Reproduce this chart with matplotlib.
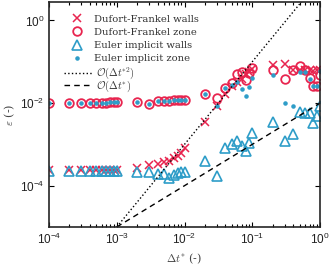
import math
import matplotlib
matplotlib.use("Agg")
import matplotlib.pyplot as plt
from matplotlib.font_manager import FontProperties
from matplotlib.ticker import FixedLocator, LogLocator, NullFormatter, FuncFormatter

# time steps
dt = [1e-4, 2e-4, 3e-4, 4e-4, 5e-4, 6e-4, 7e-4, 8e-4, 9e-4,
      1e-3, 2e-3, 3e-3, 4e-3, 5e-3, 6e-3, 7e-3, 8e-3, 9e-3,
      1e-2, 2e-2, 3e-2, 4e-2, 5e-2, 6e-2, 7e-2, 8e-2, 9e-2,
      1e-1, 2e-1, 3e-1, 4e-1, 5e-1, 6e-1, 7e-1, 8e-1, 9e-1, 1.0]

df_walls = [2.4e-4, 2.4e-4, 2.4e-4, 2.4e-4, 2.4e-4, 2.4e-4, 2.4e-4, 2.4e-4, 2.4e-4,
            2.4e-4, 2.7e-4, 3.1e-4, 3.4e-4, 3.7e-4, 4.0e-4, 4.6e-4, 5.3e-4, 6.2e-4,
            8.0e-4, 3.5e-3, 8.5e-3, 1.7e-2, 2.6e-2, 3.3e-2, 3.9e-2, 5.0e-2, 5.7e-2,
            6.7e-2, 8.3e-2, 8.9e-2, 6.3e-2, 6.4e-2, 6.2e-2, 6.3e-2, 6.1e-2, 6.2e-2, 6.3e-2]

df_zone = [1.0e-2, 1.0e-2, 1.0e-2, 1.0e-2, 1.01e-2, 1.02e-2, 1.03e-2, 1.04e-2, 1.05e-2,
           1.06e-2, 1.08e-2, 0.93e-2, 1.12e-2, 1.13e-2, 1.15e-2, 1.16e-2, 1.17e-2, 1.18e-2,
           1.22e-2, 1.7e-2, 1.3e-2, 2.3e-2, 3.1e-2, 5.0e-2, 5.8e-2, 3.6e-2, 5.4e-2,
           7.0e-2, 6.2e-2, 3.9e-2, 6.4e-2, 7.8e-2, 6.3e-2, 4.1e-2, 2.6e-2, 2.6e-2, 4.7e-2]

eu_walls = [2.3e-4, 2.3e-4, 2.3e-4, 2.3e-4, 2.3e-4, 2.3e-4, 2.3e-4, 2.3e-4, 2.3e-4,
            2.3e-4, 2.2e-4, 2.2e-4, 1.9e-4, 1.9e-4, 1.5e-4, 1.8e-4, 2.0e-4, 2.1e-4,
            2.1e-4, 3.9e-4, 1.7e-4, 8.4e-4, 1.0e-3, 1.2e-3, 9.1e-4, 7.1e-4, 1.1e-3,
            1.9e-3, 3.4e-3, 1.2e-3, 1.8e-3, 6.1e-3, 5.8e-3, 5.6e-3, 3.3e-3, 4.9e-3, 8.6e-3]

eu_zone = [1.0e-2, 1.0e-2, 1.0e-2, 1.0e-2, 1.01e-2, 1.02e-2, 1.03e-2, 1.04e-2, 1.05e-2,
           1.06e-2, 1.08e-2, 0.93e-2, 1.12e-2, 1.13e-2, 1.15e-2, 1.16e-2, 1.17e-2, 1.18e-2,
           1.22e-2, 1.7e-2, 8.5e-3, 2.3e-2, 2.7e-2, 3.2e-2, 2.2e-2, 1.5e-2, 2.4e-2,
           4.0e-2, 4.7e-2, 1.0e-2, 8.3e-3, 5.8e-2, 5.8e-2, 3.9e-2, 2.6e-2, 2.6e-2, 6.0e-2]

# reference slopes
ref_x = [1e-3, 1.0]
ref_o2 = [1e-5, 10.0]
ref_o1 = [1e-5, 1e-2]

red = "#E8254F"
blue = "#2E9DC8"

fig = plt.figure(figsize=(3.32, 2.67), dpi=100)
ax = fig.add_axes([49 / 332, 40 / 267, 271 / 332, 225 / 267])

h1, = ax.plot(dt, df_walls, "x", color=red, ms=5.5, mew=1.1, ls="none", label="Dufort-Frankel walls")
h2, = ax.plot(dt, df_zone, "o", color=red, mfc="none", ms=6.2, mew=1.3, ls="none", label="Dufort-Frankel zone")
h3, = ax.plot(dt, eu_walls, "^", color=blue, mfc="none", ms=6.5, mew=1.2, ls="none", label="Euler implicit walls")
h4, = ax.plot(dt, eu_zone, ".", color=blue, ms=4.5, ls="none", label="Euler implicit zone")
h5, = ax.plot(ref_x, ref_o2, ":", color="black", lw=1.0, label=r"$\mathcal{O}(\Delta t^{*2})$")
h6, = ax.plot(ref_x, ref_o1, "--", color="black", lw=1.0, dashes=(4, 3), label=r"$\mathcal{O}(\Delta t^{*})$")

ax.set_xscale("log")
ax.set_yscale("log")
ax.set_xlim(1e-4, 1)
ax.set_ylim(1e-5, 2.8)

sans = "Liberation Sans"
fmt = FuncFormatter(lambda v, p: r"$\mathregular{10^{%d}}$" % round(math.log10(v)))
ax.xaxis.set_major_locator(FixedLocator([1e-4, 1e-3, 1e-2, 1e-1, 1]))
ax.xaxis.set_minor_locator(LogLocator(base=10, subs=range(2, 10), numticks=20))
ax.xaxis.set_minor_formatter(NullFormatter())
ax.xaxis.set_major_formatter(fmt)
ax.yaxis.set_major_locator(FixedLocator([1e-4, 1e-2, 1]))
ax.yaxis.set_minor_locator(FixedLocator([]))
ax.yaxis.set_major_formatter(fmt)
for lab in ax.get_xticklabels() + ax.get_yticklabels():
    lab.set_fontfamily(sans)
    lab.set_fontsize(8.5)
    lab.set_color("#222222")

ax.tick_params(which="both", direction="in", top=True, right=True, width=0.8)
ax.tick_params(which="major", length=3.5)
ax.tick_params(which="minor", length=2)
for s in ax.spines.values():
    s.set_linewidth(1.2)
    s.set_color("#262626")

lab_font = FontProperties(family="DejaVu Serif", size=8, math_fontfamily="cm")
ax.set_xlabel(r"$\Delta t^{*}$ (-)", fontproperties=lab_font, color="#444444", labelpad=3)
ax.set_ylabel(r"$\varepsilon$ (-)", fontproperties=lab_font, color="#444444", labelpad=2)

# legend split in two so the math rows keep the same spacing
serif = FontProperties(family="DejaVu Serif", size=7.2, math_fontfamily="cm")
leg1 = ax.legend(handles=[h1, h2, h3, h4], loc="upper left", frameon=False, prop=serif,
                 handlelength=2.6, handletextpad=0.4, labelspacing=0.42,
                 borderaxespad=0.3, bbox_to_anchor=(0.03, 0.975))
ax.add_artist(leg1)
serif_m = FontProperties(family="DejaVu Serif", size=7.5, math_fontfamily="cm")
leg2 = ax.legend(handles=[h5, h6], loc="upper left", frameon=False, prop=serif_m,
                 handlelength=2.6, handletextpad=0.4, labelspacing=-0.3,
                 borderaxespad=0.3, bbox_to_anchor=(0.03, 0.75))
for t in leg1.get_texts() + leg2.get_texts():
    t.set_color("#333333")

fig.savefig("out.png", dpi=100)
